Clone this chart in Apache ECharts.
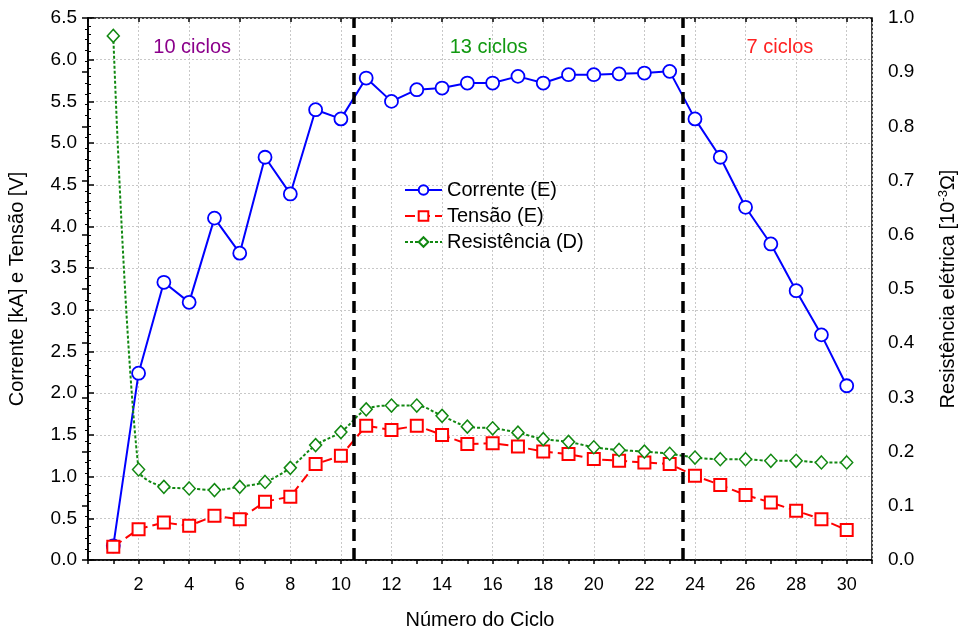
<!DOCTYPE html>
<html>
<head>
<meta charset="utf-8">
<script src="https://cdn.jsdelivr.net/npm/echarts@6/dist/echarts.min.js"></script>
<style>html,body{margin:0;padding:0;background:#fff}#c{width:961px;height:635px}</style>
</head>
<body>
<div id="c"></div>
<script>
const ciclos = [1,2,3,4,5,6,7,8,9,10,11,12,13,14,15,16,17,18,19,20,21,22,23,24,25,26,27,28,29,30];
const corrente = [0.17,2.24,3.33,3.09,4.10,3.68,4.83,4.39,5.40,5.29,5.78,5.50,5.64,5.66,5.72,5.72,5.80,5.72,5.82,5.82,5.83,5.84,5.86,5.29,4.83,4.23,3.79,3.23,2.70,2.09];
const tensao = [0.16,0.37,0.45,0.41,0.53,0.49,0.70,0.76,1.15,1.25,1.61,1.56,1.61,1.50,1.39,1.40,1.36,1.30,1.27,1.21,1.19,1.17,1.15,1.01,0.90,0.78,0.69,0.59,0.49,0.36];
const resistencia = [0.967,0.167,0.135,0.132,0.129,0.135,0.144,0.170,0.212,0.236,0.278,0.285,0.285,0.266,0.246,0.243,0.235,0.223,0.218,0.208,0.203,0.200,0.196,0.189,0.186,0.186,0.183,0.183,0.180,0.180];
const divisores = [10.5, 23.5];
const anotacoes = ['10 ciclos','13 ciclos','7 ciclos'];
const anotX = [4.12, 15.84, 27.36];
const anotY = 6.15;
const anotCores = ['#8B008B','#119911','#FF2222'];

const FONT = 'Liberation Sans, Arial, sans-serif';
const pair = (xs, ys) => xs.map((x,i)=>[x, ys[i]]);

const chart = echarts.init(document.getElementById('c'), null, {renderer:'canvas'});
const xBase = {type:'value', min:0, max:31, gridIndex:0};
chart.setOption({
  animation:false,
  backgroundColor:'#fff',
  textStyle:{fontFamily:FONT},
  grid:{left:88, right:89, top:18, bottom:75, containLabel:false, outerBoundsMode:'none',
    show:true, borderColor:'#000', borderWidth:1.5, backgroundColor:'transparent'},
  legend:{
    orient:'vertical', left:399, top:175, itemWidth:37, itemHeight:12, itemGap:6,
    textStyle:{fontFamily:FONT, fontSize:20, color:'#000'},
    data:['Corrente (E)','Tensão (E)','Resistência (D)']
  },
  xAxis:[
    Object.assign({}, xBase, {position:'bottom', interval:1,
      axisLine:{show:true, lineStyle:{color:'#000', width:1.5}},
      axisTick:{show:true, inside:false, length:4, lineStyle:{color:'#000', width:1.5}},
      axisLabel:{show:false}, splitLine:{show:false}}),
    Object.assign({}, xBase, {position:'bottom', interval:2,
      axisLine:{show:false}, axisTick:{show:false},
      axisLabel:{show:true, margin:16, fontSize:18, color:'#000', fontFamily:FONT,
        formatter:v => (v>=2 && v<=30) ? String(v) : ''},
      splitLine:{show:true, lineStyle:{color:'#c8c8c8', type:[2,2], width:1}},
      name:'Número do Ciclo', nameLocation:'middle', nameGap:50,
      nameTextStyle:{fontSize:20, color:'#000', fontFamily:FONT}}),
    Object.assign({}, xBase, {position:'top', interval:2,
      axisLine:{show:false},
      axisTick:{show:true, inside:true, length:4, lineStyle:{color:'#000', width:1.5}},
      axisLabel:{show:false}, splitLine:{show:false}})
  ],
  yAxis:[
    {type:'value', min:0, max:6.5, interval:0.5, position:'left',
      axisLine:{show:true, lineStyle:{color:'#000', width:1.5}},
      axisTick:{show:true, inside:true, length:6, lineStyle:{color:'#000', width:1.5}},
      minorTick:{show:true, splitNumber:5, length:3, lineStyle:{color:'#000', width:1}},
      axisLabel:{margin:11, fontSize:19, color:'#000', fontFamily:FONT, formatter:v=>v.toFixed(1)},
      splitLine:{show:true, lineStyle:{color:'#c8c8c8', type:[2,2], width:1}},
      name:'Corrente [kA] e Tensão [V]', nameLocation:'middle', nameGap:61, nameRotate:90,
      nameTextStyle:{fontSize:20, color:'#000', fontFamily:FONT}},
    {type:'value', min:0, max:1, interval:0.1, position:'right',
      axisLine:{show:true, lineStyle:{color:'#000', width:1.5}},
      axisTick:{show:true, inside:true, length:6, lineStyle:{color:'#000', width:1.5}},
      minorTick:{show:true, splitNumber:5, length:3, lineStyle:{color:'#000', width:1}},
      axisLabel:{margin:16, fontSize:19, color:'#000', fontFamily:FONT, formatter:v=>v.toFixed(1)},
      splitLine:{show:false},
      name:'Resistência elétrica [10{sup|-3}Ω]', nameLocation:'middle', nameGap:65, nameRotate:90,
      nameTextStyle:{fontSize:20, color:'#000', fontFamily:FONT,
        rich:{sup:{fontSize:13, verticalAlign:'top', padding:[0,0,10,0], color:'#000', fontFamily:FONT}}}}
  ],
  series:[
    {name:'Corrente (E)', type:'line', xAxisIndex:0, yAxisIndex:0, data:pair(ciclos, corrente),
      symbol:'circle', symbolSize:13, showAllSymbol:true,
      lineStyle:{color:'#0000FF', width:2},
      itemStyle:{color:'#fff', borderColor:'#0000FF', borderWidth:1.8},
      markLine:{silent:true, symbol:['none','none'], label:{show:false},
        lineStyle:{color:'#000', width:3.5, type:[12,7]},
        data:divisores.map(v=>({xAxis:v}))},
      markPoint:{symbol:'circle', symbolSize:0,
        data:anotacoes.map((t,i)=>({coord:[anotX[i], anotY],
          label:{show:true, formatter:t, color:anotCores[i], fontSize:20, fontFamily:FONT, position:'inside'}}))}
    },
    {name:'Tensão (E)', type:'line', xAxisIndex:0, yAxisIndex:0, data:pair(ciclos, tensao),
      symbol:'rect', symbolSize:12, showAllSymbol:true,
      lineStyle:{color:'#FF0000', width:2, type:[10,5]},
      itemStyle:{color:'#fff', borderColor:'#FF0000', borderWidth:2}},
    {name:'Resistência (D)', type:'line', xAxisIndex:0, yAxisIndex:1, data:pair(ciclos, resistencia),
      symbol:'diamond', symbolSize:[12,13], showAllSymbol:true, smooth:0.3,
      lineStyle:{color:'#118811', width:2, type:[3,2]},
      itemStyle:{color:'#fff', borderColor:'#118811', borderWidth:1.5}}
  ]
});
</script>
</body>
</html>
